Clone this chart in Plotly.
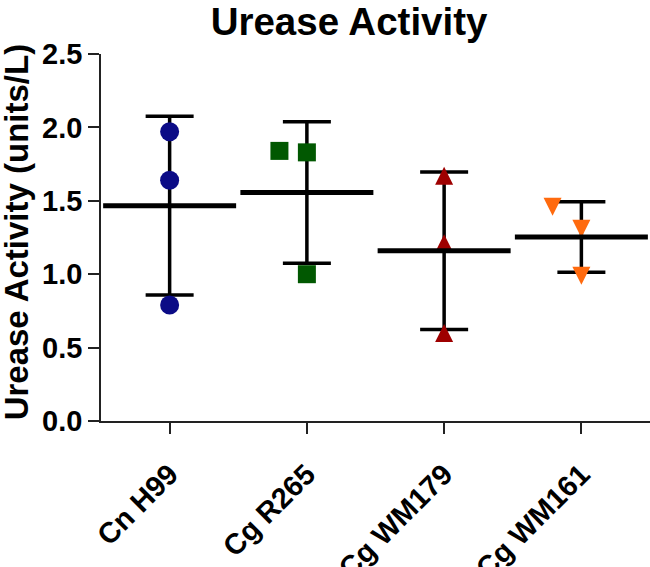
import numpy as np
import plotly.graph_objects as go

# ---- data ----
categories = ["Cn H99", "Cg R265", "Cg WM179", "Cg WM161"]
cn_h99 = [1.97, 1.64, 0.79]
cg_r265 = [1.84, 1.83, 1.00]
cg_wm179 = [1.67, 1.21, 0.60]
cg_wm161 = [1.46, 1.31, 0.99]
point_offsets = [[0, 0, 0], [-0.2, 0, 0], [0, 0, 0], [-0.21, 0, 0]]
y_ticks = [0.0, 0.5, 1.0, 1.5, 2.0, 2.5]

series = [cn_h99, cg_r265, cg_wm179, cg_wm161]
colors = ["#0b0b86", "#015801", "#9e0000", "#ff6a0e"]
FONT = "Liberation Sans, Arial, sans-serif"

means = [float(np.mean(s)) for s in series]
sds = [float(np.std(s, ddof=1)) for s in series]
xidx = list(range(len(categories)))

fig = go.Figure()

# SD error bars
fig.add_trace(go.Scatter(
    x=xidx, y=means, mode="markers",
    marker=dict(size=1, color="rgba(0,0,0,0)"),
    error_y=dict(type="data", array=sds, visible=True,
                 thickness=3.5, width=24, color="black"),
    showlegend=False, hoverinfo="skip", cliponaxis=False,
))

marker_styles = [
    dict(symbol="circle", size=19),
    dict(symbol="square", size=18),
    dict(symbol="arrow-down", size=18, angle=180, standoff=9),
    dict(symbol="arrow-down", size=18, angle=0, standoff=9),
]

for i, (vals, col, ms) in enumerate(zip(series, colors, marker_styles)):
    xs = [i + o for o in point_offsets[i]]
    fig.add_trace(go.Scatter(
        x=xs, y=vals, mode="markers",
        marker=dict(color=col, line=dict(width=0), **ms),
        name=categories[i], showlegend=False, cliponaxis=False,
    ))

# mean lines
fig.add_trace(go.Scatter(
    x=xidx, y=means, mode="markers",
    marker=dict(symbol="line-ew", size=95, line=dict(width=5, color="black")),
    showlegend=False, hoverinfo="skip", cliponaxis=False,
))

fig.update_layout(
    width=650, height=567,
    margin=dict(l=101, r=0, t=54, b=146, autoexpand=False),
    paper_bgcolor="white", plot_bgcolor="white",
    font=dict(family=FONT, color="black"),
    title=dict(text="Urease Activity", x=0.537, xanchor="center",
               xref="container", y=1 - 21.5 / 567, yref="container",
               yanchor="middle", automargin=False,
               font=dict(size=38.5, family=FONT, weight="bold", color="black")),
    annotations=[dict(
        text="Urease Activity (units/L)", textangle=-90,
        xref="paper", yref="paper", x=(16 - 101) / 549, y=0.514,
        xanchor="center", yanchor="middle", showarrow=False,
        font=dict(size=33, family=FONT, weight="bold", color="black"),
    )],
)

fig.update_xaxes(
    range=[-0.5, 3.5], tickvals=xidx, ticktext=categories,
    tickangle=-45, ticks="outside", ticklen=11, tickwidth=1.5,
    tickcolor="#222", showline=True, linecolor="#222", linewidth=1.5,
    showgrid=False, zeroline=False, automargin=False,
    ticklabelstandoff=12,
    tickfont=dict(size=29, family=FONT, weight="bold", color="black"),
)
fig.update_yaxes(
    range=[0, 2.5], tickvals=y_ticks, tickformat=".1f",
    ticks="outside", ticklen=11, tickwidth=1.5, tickcolor="#222",
    showline=True, linecolor="#222", linewidth=1.5,
    showgrid=False, zeroline=False, automargin=False,
    tickfont=dict(size=29, family=FONT, weight="bold", color="black"),
)

fig.write_html(
    "out.html",
    config={"displayModeBar": False},
    post_script="document.body.style.margin='0';document.body.style.overflow='hidden';",
)
